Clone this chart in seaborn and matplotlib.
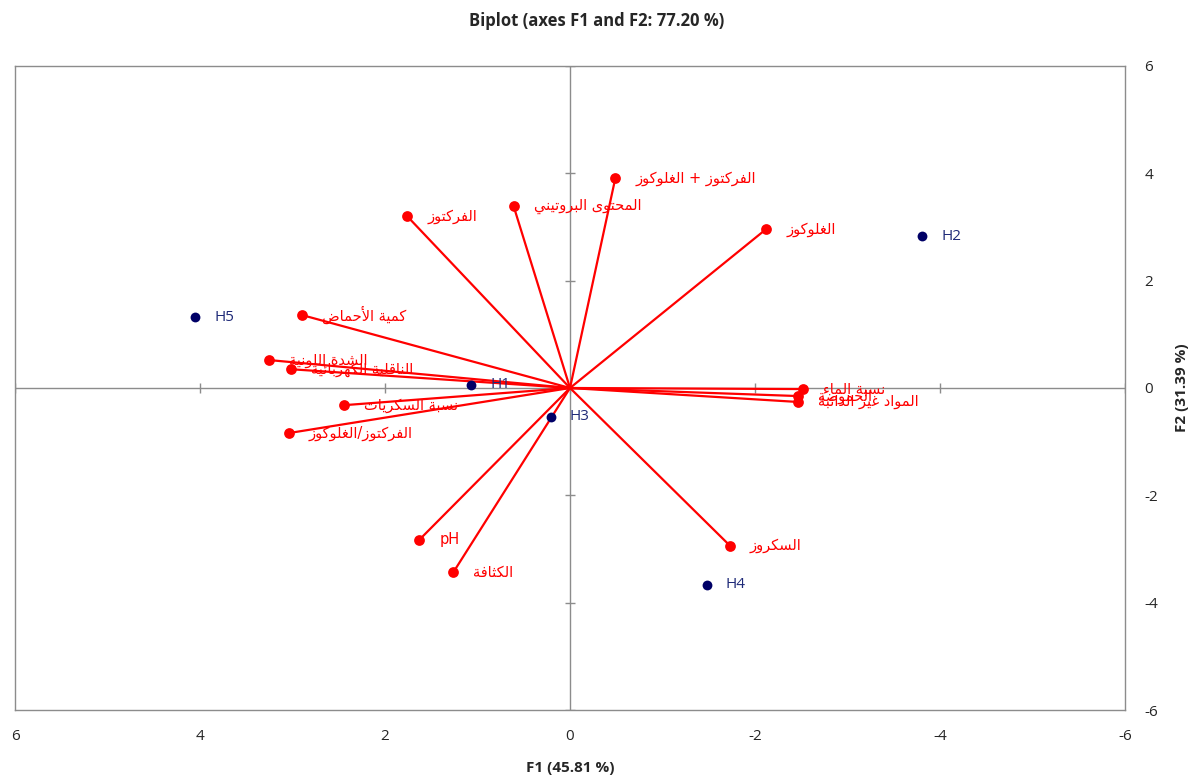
import matplotlib
matplotlib.use("Agg")
import matplotlib.pyplot as plt
import seaborn as sns
import pandas as pd

# ---------------- data ----------------
obs_names = ["H1", "H2", "H3", "H4", "H5"]
obs_f1 = [1.07, -3.81, 0.21, -1.48, 4.05]
obs_f2 = [0.06, 2.83, -0.54, -3.67, 1.32]

var_names = ["الفركتوز + الغلوكوز", "المحتوى البروتيني", "الفركتوز", "الغلوكوز",
             "كمية الأحماض", "الشدة اللونية", "الناقلية الكهربائية", "نسبة السكريات",
             "الفركتوز/الغلوكوز", "pH", "الكثافة", "السكروز",
             "نسبة الماء", "الحموضة", "المواد غير الذائبة"]
var_f1 = [-0.49, 0.61, 1.76, -2.12, 2.90, 3.25, 3.02, 2.44, 3.04, 1.63, 1.26, -1.73,
          -2.52, -2.46, -2.46]
var_f2 = [3.91, 3.39, 3.20, 2.96, 1.36, 0.52, 0.35, -0.32, -0.84, -2.83, -3.43, -2.94,
          -0.02, -0.15, -0.26]

ticks = [-6, -4, -2, 0, 2, 4, 6]
title = "Biplot (axes F1 and F2: 77.20 %)"
xlabel = "F1 (45.81 %)"
ylabel = "F2 (31.39 %)"

# ---------------- minimal Arabic shaping (contextual forms + RTL) ----------------
TABLE = {0x621: (0xFE80, 1), 0x622: (0xFE81, 2), 0x623: (0xFE83, 2), 0x624: (0xFE85, 2),
         0x625: (0xFE87, 2), 0x626: (0xFE89, 4), 0x627: (0xFE8D, 2), 0x628: (0xFE8F, 4),
         0x629: (0xFE93, 2), 0x62A: (0xFE95, 4), 0x62B: (0xFE99, 4), 0x62C: (0xFE9D, 4),
         0x62D: (0xFEA1, 4), 0x62E: (0xFEA5, 4), 0x62F: (0xFEA9, 2), 0x630: (0xFEAB, 2),
         0x631: (0xFEAD, 2), 0x632: (0xFEAF, 2), 0x633: (0xFEB1, 4), 0x634: (0xFEB5, 4),
         0x635: (0xFEB9, 4), 0x636: (0xFEBD, 4), 0x637: (0xFEC1, 4), 0x638: (0xFEC5, 4),
         0x639: (0xFEC9, 4), 0x63A: (0xFECD, 4), 0x641: (0xFED1, 4), 0x642: (0xFED5, 4),
         0x643: (0xFED9, 4), 0x644: (0xFEDD, 4), 0x645: (0xFEE1, 4), 0x646: (0xFEE5, 4),
         0x647: (0xFEE9, 4), 0x648: (0xFEED, 2), 0x649: (0xFEEF, 2), 0x64A: (0xFEF1, 4)}
LAMALEF = {0x622: 0xFEF5, 0x623: 0xFEF7, 0x625: 0xFEF9, 0x627: 0xFEFB}


def shape(s):
    if not any(ord(ch) in TABLE for ch in s):
        return s
    out = []
    i, n = 0, len(s)
    while i < n:
        c = ord(s[i])
        if c not in TABLE:
            out.append(s[i]); i += 1; continue
        prev_ok = i > 0 and ord(s[i - 1]) in TABLE and TABLE[ord(s[i - 1])][1] == 4
        if c == 0x644 and i + 1 < n and ord(s[i + 1]) in LAMALEF:
            base = LAMALEF[ord(s[i + 1])]
            out.append(chr(base + 1 if prev_ok else base)); i += 2; continue
        base, nf = TABLE[c]
        next_ok = (nf == 4 and i + 1 < n and ord(s[i + 1]) in TABLE
                   and TABLE[ord(s[i + 1])][1] > 1)
        if nf == 1:
            f = base
        elif prev_ok and next_ok:
            f = base + 3
        elif prev_ok:
            f = base + 1
        elif next_ok:
            f = base + 2
        else:
            f = base
        out.append(chr(f)); i += 1
    return "".join(out)[::-1]


# ---------------- figure ----------------
sns.set_style("white")
plt.rcParams["font.family"] = ["Open Sans", "DejaVu Sans"]
plt.rcParams["axes.unicode_minus"] = False

fig = plt.figure(figsize=(11.93, 7.78), dpi=100)
ax = fig.add_axes([0.0126, 0.0874, 0.9304, 0.8278])

GRAY = "#8c8c8c"
RED = "#ff0000"
NAVY = "#000066"

obs = pd.DataFrame({"name": obs_names, "F1": obs_f1, "F2": obs_f2})
var = pd.DataFrame({"name": var_names, "F1": var_f1, "F2": var_f2})

# center axes with small tick marks
ax.axhline(0, color=GRAY, lw=1, zorder=1)
ax.axvline(0, color=GRAY, lw=1, zorder=1)
ax.plot(ticks, [0] * len(ticks), ls="none", marker="|", ms=7, mew=1, color=GRAY, zorder=1)
ax.plot([0] * len(ticks), ticks, ls="none", marker="_", ms=7, mew=1, color=GRAY, zorder=1)

# variable vectors
for _, r in var.iterrows():
    ax.plot([0, r.F1], [0, r.F2], color=RED, lw=1.6, zorder=2)
sns.scatterplot(data=var, x="F1", y="F2", ax=ax, color=RED, s=60, edgecolor=RED,
                linewidth=0, zorder=3, legend=False)
sns.scatterplot(data=obs, x="F1", y="F2", ax=ax, color=NAVY, s=50, edgecolor=NAVY,
                linewidth=0, zorder=3, legend=False)

for _, r in var.iterrows():
    ax.annotate(shape(r["name"]), (r.F1, r.F2), xytext=(20, 0), textcoords="offset pixels",
                ha="left", va="center", color=RED, fontsize=10.5,
                family=["DejaVu Sans"], zorder=4)
for _, r in obs.iterrows():
    ax.annotate(r["name"], (r.F1, r.F2), xytext=(19, 0), textcoords="offset pixels",
                ha="left", va="center", color="#1f2a78", fontsize=11, zorder=4)

ax.set_xlim(6, -6)
ax.set_ylim(-6, 6)
ax.set_xticks(ticks)
ax.set_yticks(ticks)
ax.yaxis.tick_right()
ax.yaxis.set_label_position("right")
ax.tick_params(axis="x", length=0, pad=14, labelsize=11)
ax.tick_params(axis="y", length=0, pad=14, labelsize=11)
for sp in ax.spines.values():
    sp.set_color(GRAY)
    sp.set_linewidth(1)

ax.set_xlabel(xlabel, fontsize=11, fontweight="bold", labelpad=12)
ax.set_ylabel(ylabel, fontsize=11, fontweight="bold", labelpad=12)
fig.suptitle(title, fontsize=12, fontweight="bold", y=0.985)

fig.savefig("out.png", dpi=100)
